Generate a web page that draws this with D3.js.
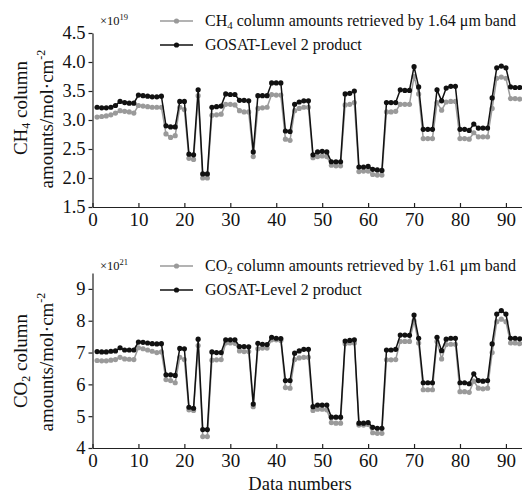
<!DOCTYPE html>
<html>
<head>
<meta charset="utf-8">
<script src="https://cdn.jsdelivr.net/npm/d3@7"></script>
<style>
  body { margin: 0; background: #fff; }
  svg text { font-family: "Liberation Serif", "Times New Roman", serif; fill: #111; }
</style>
</head>
<body>
<div id="chart"></div>
<script>
const dataNumbers = d3.range(1, 94);
const xTicks = [0, 10, 20, 30, 40, 50, 60, 70, 80, 90];

const ch4Gosat = [3.22, 3.21, 3.21, 3.22, 3.25, 3.32, 3.30, 3.29, 3.29, 3.43, 3.42, 3.41, 3.40, 3.40, 3.41,
  2.90, 2.88, 2.88, 3.32, 3.32, 2.41, 2.40, 3.52, 2.07, 2.07, 3.22, 3.23, 3.24, 3.45, 3.44, 3.44,
  3.34, 3.34, 3.33, 2.45, 3.42, 3.42, 3.42, 3.64, 3.64, 3.64, 2.81, 2.80, 3.27, 3.31, 3.33, 3.33,
  2.40, 2.45, 2.46, 2.45, 2.28, 2.28, 2.28, 3.45, 3.46, 3.50, 2.19, 2.19, 2.20, 2.15, 2.14, 2.13,
  3.30, 3.30, 3.30, 3.52, 3.51, 3.51, 3.92, 3.57, 2.84, 2.84, 2.84, 3.52, 3.33, 3.55, 3.58, 3.58,
  2.84, 2.84, 2.82, 2.93, 2.86, 2.86, 2.86, 3.38, 3.90, 3.93, 3.90, 3.57, 3.56, 3.56];
const ch4Retrieved = [3.05, 3.06, 3.07, 3.09, 3.12, 3.16, 3.15, 3.14, 3.12, 3.25, 3.24, 3.23, 3.22, 3.22, 3.22,
  2.76, 2.70, 2.73, 3.22, 3.18, 2.34, 2.32, 3.42, 2.00, 2.00, 3.08, 3.09, 3.10, 3.27, 3.27, 3.26,
  3.16, 3.14, 3.14, 2.37, 3.20, 3.21, 3.22, 3.44, 3.43, 3.43, 2.67, 2.65, 3.16, 3.20, 3.22, 3.22,
  2.35, 2.37, 2.38, 2.37, 2.22, 2.21, 2.21, 3.26, 3.27, 3.30, 2.11, 2.12, 2.12, 2.06, 2.05, 2.05,
  3.14, 3.14, 3.15, 3.27, 3.27, 3.27, 3.75, 3.45, 2.68, 2.68, 2.68, 3.30, 3.17, 3.31, 3.32, 3.32,
  2.68, 2.68, 2.67, 2.78, 2.71, 2.71, 2.71, 3.20, 3.72, 3.74, 3.72, 3.37, 3.37, 3.36];

const co2Gosat = [7.03, 7.02, 7.02, 7.04, 7.05, 7.15, 7.08, 7.08, 7.08, 7.33, 7.32, 7.30, 7.28, 7.27, 7.28,
  6.30, 6.30, 6.28, 7.13, 7.12, 5.28, 5.25, 7.42, 4.58, 4.58, 7.02, 7.00, 7.00, 7.40, 7.40, 7.40,
  7.19, 7.19, 7.18, 5.38, 7.29, 7.26, 7.25, 7.48, 7.45, 7.44, 6.12, 6.12, 6.98, 7.05, 7.10, 7.10,
  5.30, 5.35, 5.35, 5.35, 4.97, 4.97, 4.97, 7.36, 7.38, 7.40, 4.78, 4.78, 4.80, 4.65, 4.62, 4.62,
  7.08, 7.08, 7.10, 7.55, 7.55, 7.54, 8.18, 7.45, 6.05, 6.05, 6.05, 7.48, 7.06, 7.42, 7.45, 7.45,
  6.05, 6.05, 6.02, 6.33, 6.12, 6.10, 6.12, 7.27, 8.21, 8.32, 8.21, 7.45, 7.45, 7.43];
const co2Retrieved = [6.75, 6.74, 6.74, 6.76, 6.78, 6.85, 6.80, 6.79, 6.78, 7.15, 7.12, 7.08, 7.04, 7.00, 7.02,
  6.15, 6.12, 6.05, 6.85, 6.78, 5.20, 5.18, 7.22, 4.36, 4.36, 6.76, 6.77, 6.78, 7.30, 7.30, 7.29,
  7.05, 7.03, 7.03, 5.30, 7.12, 7.14, 7.14, 7.40, 7.40, 7.38, 5.90, 5.88, 6.78, 6.83, 6.85, 6.85,
  5.18, 5.22, 5.22, 5.20, 4.80, 4.78, 4.78, 7.28, 7.30, 7.30, 4.72, 4.72, 4.74, 4.48, 4.46, 4.46,
  6.77, 6.77, 6.78, 7.35, 7.35, 7.35, 8.00, 7.30, 5.83, 5.83, 5.83, 7.35, 6.80, 7.25, 7.26, 7.26,
  5.77, 5.77, 5.75, 6.10, 5.88, 5.86, 5.88, 7.00, 7.97, 8.05, 7.97, 7.30, 7.30, 7.28];

const ch4Ticks = [1.5, 2.0, 2.5, 3.0, 3.5, 4.0, 4.5];
const co2Ticks = [4, 5, 6, 7, 8, 9];

const W = 522, H = 494;
const serif = "Liberation Serif, Times New Roman, serif";
const svg = d3.select("#chart").append("svg")
  .attr("width", W)
  .attr("height", H)
  .attr("font-family", serif);

const x = d3.scaleLinear().domain([0, 93.5]).range([92.5, 522]);

function panel(cfg) {
  const y = d3.scaleLinear().domain(cfg.domain).range(cfg.range);
  const g = svg.append("g");

  // axes
  g.append("g")
    .attr("transform", "translate(0," + cfg.range[0] + ")")
    .call(d3.axisBottom(x).tickValues(xTicks).tickSize(-4).tickPadding(5).tickSizeOuter(0))
    .attr("font-family", serif)
    .call(a => a.selectAll("text").attr("font-size", 19).attr("dy", "0.75em"));
  g.append("g")
    .attr("transform", "translate(92.5,0)")
    .call(d3.axisLeft(y).tickValues(cfg.ticks).tickFormat(cfg.fmt).tickSize(4).tickPadding(3).tickSizeOuter(0))
    .attr("font-family", serif)
    .call(a => a.selectAll("text").attr("font-size", 18.5));
  g.selectAll(".domain").attr("stroke", "#222").attr("stroke-width", 1.2);
  g.selectAll(".tick line").attr("stroke", "#222").attr("stroke-width", 1.2);
  g.selectAll(".tick text").style("fill", "#111");

  const line = d3.line().x((d, i) => x(dataNumbers[i])).y(d => y(d));
  const series = [
    { vals: cfg.retrieved, color: "#9a9a9a" },
    { vals: cfg.gosat, color: "#111" }
  ];
  series.forEach(s => {
    g.append("path")
      .datum(s.vals)
      .attr("fill", "none")
      .attr("stroke", s.color)
      .attr("stroke-width", 1.5)
      .attr("d", line);
    g.selectAll(null)
      .data(s.vals)
      .enter().append("circle")
      .attr("cx", (d, i) => x(dataNumbers[i]))
      .attr("cy", d => y(d))
      .attr("r", 2.6)
      .attr("fill", s.color);
  });

  // multiplier
  const m = g.append("text")
    .attr("x", 100).attr("y", cfg.legY + 4)
    .attr("font-size", 12.5);
  m.append("tspan").text("×10");
  m.append("tspan").attr("dy", -5).attr("font-size", 8.5).text(cfg.exp);

  // legend
  const leg = [
    { color: "#9a9a9a", y: cfg.legY, label: cfg.legLabel },
    { color: "#111", y: cfg.legY + 24, label: ["GOSAT-Level 2 product"] }
  ];
  leg.forEach(l => {
    g.append("line")
      .attr("x1", 160).attr("x2", 193)
      .attr("y1", l.y).attr("y2", l.y)
      .attr("stroke", l.color).attr("stroke-width", 1.5);
    g.append("circle")
      .attr("cx", 176.5).attr("cy", l.y).attr("r", 2.6).attr("fill", l.color);
    const t = g.append("text")
      .attr("x", 205).attr("y", l.y + 5)
      .attr("font-size", 16);
    if (l.label.length === 1) {
      t.text(l.label[0]);
    } else {
      t.append("tspan").text(l.label[0]);
      t.append("tspan").attr("font-size", 11).attr("dy", 3).text(l.label[1]);
      t.append("tspan").attr("dy", -3).text(l.label[2]);
    }
  });

  // y title
  const t1 = g.append("text")
    .attr("transform", "translate(27," + cfg.t1Y + ") rotate(-90)")
    .attr("text-anchor", "middle")
    .attr("font-size", 19);
  t1.append("tspan").text(cfg.gas[0]);
  t1.append("tspan").attr("font-size", 12).attr("dy", 3).text(cfg.gas[1]);
  t1.append("tspan").attr("dy", -3).text(" column");

  const t2 = g.append("text")
    .attr("transform", "translate(53," + cfg.t2Y + ") rotate(-90)")
    .attr("text-anchor", "middle")
    .attr("font-size", 19);
  t2.append("tspan").text("amounts/mol·cm");
  t2.append("tspan").attr("font-size", 12).attr("dy", -8).text("-2");
}

panel({
  domain: [1.5, 4.5], range: [207, 33], ticks: ch4Ticks, fmt: d3.format(".1f"),
  gosat: ch4Gosat, retrieved: ch4Retrieved, exp: "19", legY: 21,
  legLabel: ["CH", "4", " column amounts retrieved by 1.64 μm band"],
  gas: ["CH", "4"], t1Y: 108, t2Y: 119
});

panel({
  domain: [4, 9.5], range: [448, 273], ticks: co2Ticks, fmt: d3.format("d"),
  gosat: co2Gosat, retrieved: co2Retrieved, exp: "21", legY: 266,
  legLabel: ["CO", "2", " column amounts retrieved by 1.61 μm band"],
  gas: ["CO", "2"], t1Y: 361, t2Y: 362
});

svg.append("text")
  .attr("x", 300).attr("y", 490)
  .attr("text-anchor", "middle")
  .attr("font-size", 18.5)
  .text("Data numbers");
</script>
</body>
</html>
